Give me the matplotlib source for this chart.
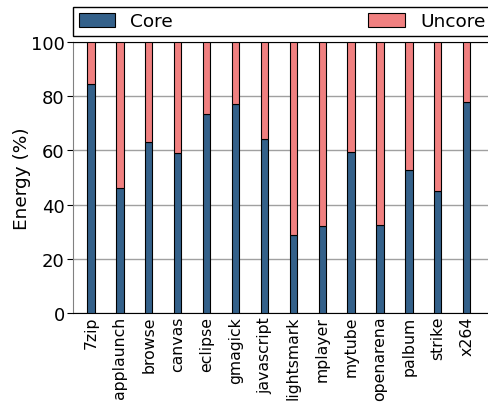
import matplotlib
matplotlib.use("Agg")
import matplotlib.pyplot as plt
import numpy as np

benchmarks = ["7zip", "applaunch", "browse", "canvas", "eclipse", "gmagick",
              "javascript", "lightsmark", "mplayer", "mytube", "openarena",
              "palbum", "strike", "x264"]
core = [84.5, 46.0, 63.1, 59.0, 73.3, 77.0, 64.3, 28.9, 32.0, 59.4, 32.4,
        52.8, 45.1, 78.0]
uncore = [100 - c for c in core]
y_ticks = [0, 20, 40, 60, 80, 100]

plt.rcParams["font.family"] = "DejaVu Sans"
plt.rcParams["font.size"] = 13

W, H = 488, 406
fig = plt.figure(figsize=(W / 100, H / 100), dpi=100)
ax_left, ax_right, ax_top, ax_bot = 73, 530, 43, 314
ax = fig.add_axes([ax_left / W, 1 - ax_bot / H,
                   (ax_right - ax_left) / W, (ax_bot - ax_top) / H])

x = np.arange(len(benchmarks))
w = 0.25
ax.bar(x, core, w, color="#34618a", edgecolor="black", linewidth=0.8,
       label="Core", zorder=3)
ax.bar(x, uncore, w, bottom=core, color="#f08080", edgecolor="black",
       linewidth=0.8, label="Uncore", zorder=3)

# x-scale: ~28.9 px between bar centres, first bar 18 px right of the spine
step = 28.9
x0 = -18 / step
ax.set_xlim(x0, x0 + (ax_right - ax_left) / step)
ax.set_ylim(0, 100)
ax.set_yticks(y_ticks)
ax.set_xticks(x)
ax.set_xticklabels(benchmarks, rotation=90, fontsize=11.3)
ax.tick_params(axis="x", length=0, pad=2)
ax.tick_params(axis="y", length=4, direction="out", pad=2, labelsize=13)
ax.set_ylabel("Energy (%)", labelpad=0, fontsize=13.3)
ax.yaxis.grid(True, color="#a0a0a0", linewidth=1, zorder=0)
ax.spines["left"].set_color("#808080")
ax.spines["right"].set_visible(False)

# legend box spanning from the left spine past the right figure edge
leg_l, leg_r, leg_t, leg_b = 73, 491, 7, 37
fig.legend(loc="lower left",
           bbox_to_anchor=(leg_l / W, 1 - leg_b / H,
                           (leg_r - leg_l) / W, (leg_b - leg_t) / H),
           ncol=2, mode="expand", borderaxespad=0, fancybox=False,
           edgecolor="black", framealpha=1, handlelength=2.0,
           handleheight=0.72, borderpad=0.3, fontsize=13.3)

fig.savefig("out.png", dpi=100)
